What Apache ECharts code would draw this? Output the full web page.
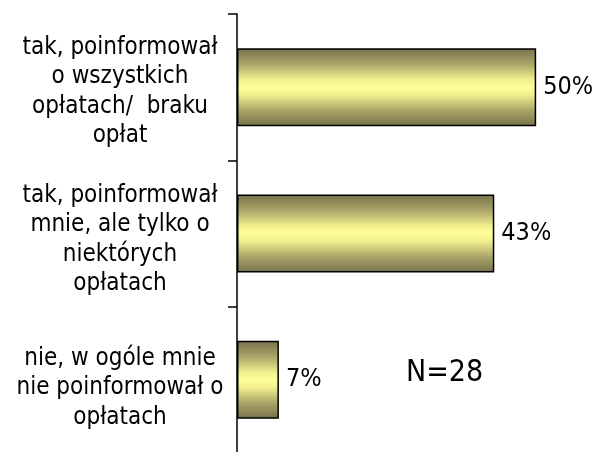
<!DOCTYPE html>
<html>
<head>
<meta charset="utf-8">
<script src="https://cdn.jsdelivr.net/npm/echarts@6/dist/echarts.min.js"></script>
<style>
  html, body { margin: 0; padding: 0; background: #fff; }
  #chart { width: 598px; height: 452px; }
</style>
</head>
<body>
<div id="chart"></div>
<script>
  // odpowiedzi i udziały procentowe
  const categories = [
    'tak, poinformował\no wszystkich\nopłatach/  braku\nopłat',
    'tak, poinformował\nmnie, ale tylko o\nniektórych\nopłatach',
    'nie, w ogóle mnie\nnie poinformował o\nopłatach',
  ];
  const values = [50, 43, 7];
  const sampleLabel = 'N=28';

  const chart = echarts.init(document.getElementById('chart'));

  const barColor = new echarts.graphic.LinearGradient(0, 0, 0, 1, [
    { offset: 0, color: '#76724a' },
    { offset: 0.2, color: '#a9a468' },
    { offset: 0.4, color: '#f0ee8e' },
    { offset: 0.5, color: '#ffff99' },
    { offset: 0.6, color: '#f0ee8e' },
    { offset: 0.8, color: '#a9a468' },
    { offset: 1, color: '#76724a' },
  ]);

  const fontFamily = '"DejaVu Sans Condensed", "DejaVu Sans"';

  const option = {
    animation: false,
    grid: [
      // wykres słupkowy
      { left: 237, top: 14, width: 359, height: 439, outerBoundsMode: 'none' },
      // tylko etykiety kategorii (lekko przesunięte w dół)
      { left: 237, top: 18, width: 359, height: 444, outerBoundsMode: 'none' },
    ],
    xAxis: [
      { type: 'value', gridIndex: 0, min: 0, max: 60, show: false },
      { type: 'value', gridIndex: 1, min: 0, max: 60, show: false },
    ],
    yAxis: [
      {
        type: 'category',
        gridIndex: 0,
        inverse: true,
        data: categories,
        axisLine: {
          show: true,
          lineStyle: { color: '#000', width: 1.5 },
        },
        axisTick: {
          show: true,
          length: 9,
          lineStyle: { color: '#000', width: 1.5 },
        },
        axisLabel: { show: false },
      },
      {
        type: 'category',
        gridIndex: 1,
        inverse: true,
        data: categories,
        axisLine: { show: false },
        axisTick: { show: false },
        axisLabel: {
          align: 'center',
          margin: 117,
          color: '#000',
          fontFamily: fontFamily,
          fontSize: 24,
          lineHeight: 29.5,
        },
      },
    ],
    series: [
      {
        type: 'bar',
        xAxisIndex: 0,
        yAxisIndex: 0,
        data: values,
        barWidth: 78,
        itemStyle: {
          color: barColor,
          borderColor: '#000',
          borderWidth: 1.5,
        },
        label: {
          show: true,
          position: 'right',
          distance: 7,
          formatter: '{c}%',
          color: '#000',
          fontFamily: fontFamily,
          fontSize: 25,
        },
      },
    ],
    graphic: [
      {
        type: 'text',
        left: 406,
        top: 358,
        style: {
          text: sampleLabel,
          fill: '#000',
          font: '30px "DejaVu Sans Condensed", "DejaVu Sans"',
        },
      },
    ],
  };

  chart.setOption(option);
</script>
</body>
</html>
